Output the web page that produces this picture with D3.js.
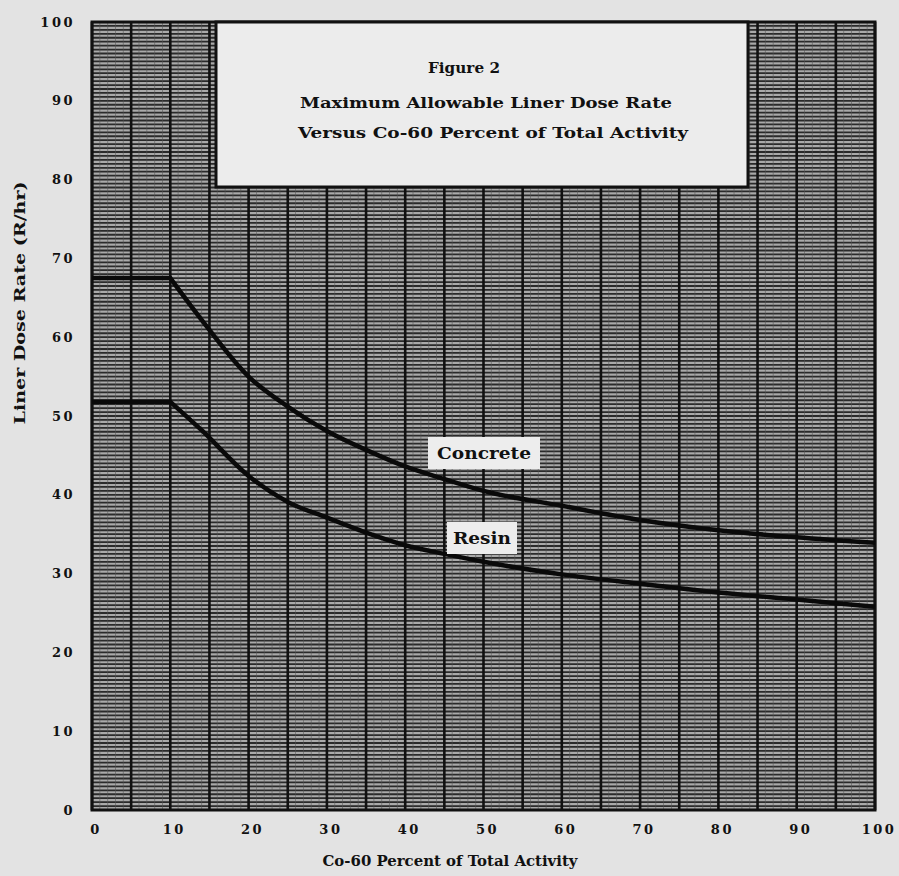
<!DOCTYPE html>
<html>
<head>
<meta charset="utf-8">
<script src="https://cdn.jsdelivr.net/npm/d3@7"></script>
<style>
  html, body { margin: 0; padding: 0; background: #e3e3e3; }
  svg { display: block; }
  text { font-family: "DejaVu Serif", "Liberation Serif", serif; font-weight: bold; fill: #111; }
</style>
</head>
<body>
<svg id="chart" width="899" height="876"></svg>
<script>
// ---- data ----
const xTicks = [0, 10, 20, 30, 40, 50, 60, 70, 80, 90, 100];
const yTicks = [0, 10, 20, 30, 40, 50, 60, 70, 80, 90, 100];
const concreteX = [0, 10, 14, 20, 25, 30, 35, 40, 45, 50, 60, 70, 80, 90, 100];
const concreteY = [67.5, 67.5, 62.2, 55.0, 51.2, 48.1, 45.7, 43.6, 42.0, 40.5, 38.6, 36.8, 35.5, 34.6, 33.9];
const resinX = [0, 10, 14, 20, 25, 30, 35, 40, 45, 50, 60, 70, 80, 90, 100];
const resinY = [51.8, 51.8, 48.2, 42.4, 39.1, 37.1, 35.2, 33.6, 32.5, 31.5, 29.9, 28.7, 27.6, 26.7, 25.8];
const titleLines = ["Figure 2", "Maximum Allowable Liner Dose Rate", "Versus Co-60 Percent of Total Activity"];
const xLabel = "Co-60 Percent of Total Activity";
const yLabel = "Liner Dose Rate (R/hr)";

// ---- layout ----
const L = 92, R = 875, T = 22, B = 810;
const svg = d3.select("#chart");
const x = d3.scaleLinear().domain([0, 100]).range([L, R]);
const y = d3.scaleLinear().domain([0, 100]).range([B, T]);

// plot background
svg.append("rect").attr("x", L).attr("y", T).attr("width", R - L).attr("height", B - T).attr("fill", "#a9a9a9");

const grid = svg.append("g");
grid.selectAll("line.h").data(d3.range(0, 100.01, 0.5)).join("line")
  .attr("x1", L).attr("x2", R).attr("y1", d => y(d)).attr("y2", d => y(d))
  .attr("stroke", "#2a2a2a").attr("stroke-width", 1.8);
grid.selectAll("line.vf").data(d3.range(0, 100.01, 1)).join("line")
  .attr("y1", T).attr("y2", B).attr("x1", d => x(d)).attr("x2", d => x(d))
  .attr("stroke", "#555").attr("stroke-width", 0.8).attr("opacity", 0.7);
grid.selectAll("line.v5").data(d3.range(0, 100.01, 5)).join("line")
  .attr("y1", T).attr("y2", B).attr("x1", d => x(d)).attr("x2", d => x(d))
  .attr("stroke", "#111").attr("stroke-width", 2.6);

// border
svg.append("rect").attr("x", L).attr("y", T).attr("width", R - L).attr("height", B - T)
  .attr("fill", "none").attr("stroke", "#111").attr("stroke-width", 3);

// curves: flat plateau (straight) + decreasing part (smooth), sharp corner at the kink
const flatLine = d3.line().x(d => x(d[0])).y(d => y(d[1]));
const smoothLine = d3.line().x(d => x(d[0])).y(d => y(d[1])).curve(d3.curveMonotoneX);
const concrete = concreteX.map((v, i) => [v, concreteY[i]]);
const resin = resinX.map((v, i) => [v, resinY[i]]);
[concrete, resin].forEach(data => {
  svg.append("path").attr("d", flatLine(data.slice(0, 2)) + smoothLine(data.slice(1)).replace(/^M/, "L"))
    .attr("fill", "none").attr("stroke", "#0a0a0a").attr("stroke-width", 4.5)
    .attr("stroke-linejoin", "miter");
});

// curve labels
function boxLabel(txt, cx, cy, w, h, tl) {
  svg.append("rect").attr("x", cx - w / 2).attr("y", cy - h / 2).attr("width", w).attr("height", h).attr("fill", "#ededed");
  svg.append("text").attr("x", cx).attr("y", cy).attr("text-anchor", "middle").attr("dominant-baseline", "central")
    .attr("textLength", tl).attr("lengthAdjust", "spacingAndGlyphs")
    .style("font-size", "16px").text(txt);
}
boxLabel("Concrete", 484, 453, 112, 32, 94);
boxLabel("Resin", 482, 538, 70, 32, 58);

// title box
svg.append("rect").attr("x", 216).attr("y", 22).attr("width", 532).attr("height", 165)
  .attr("fill", "#ececec").attr("stroke", "#111").attr("stroke-width", 3);
const tPos = [[464, 68, 72], [486, 103, 372], [493, 133, 390]];
titleLines.forEach((t, i) => {
  svg.append("text").attr("x", tPos[i][0]).attr("y", tPos[i][1]).attr("text-anchor", "middle").attr("dominant-baseline", "central")
    .attr("textLength", tPos[i][2]).attr("lengthAdjust", "spacingAndGlyphs")
    .style("font-size", "15px").text(t);
});

// tick labels
svg.append("g").selectAll("text").data(xTicks).join("text")
  .attr("x", d => x(d) + 4).attr("y", 834).attr("text-anchor", "middle")
  .style("font-size", "13px").style("letter-spacing", "2.5px").text(d => d);
svg.append("g").selectAll("text").data(yTicks).join("text")
  .attr("x", 75).attr("y", d => y(d)).attr("text-anchor", "end").attr("dominant-baseline", "central")
  .style("font-size", "13px").style("letter-spacing", "2.5px").text(d => d);

// axis titles
svg.append("text").attr("x", 450).attr("y", 866).attr("text-anchor", "middle")
  .attr("textLength", 255).attr("lengthAdjust", "spacingAndGlyphs")
  .style("font-size", "15px").text(xLabel);
svg.append("text").attr("transform", "translate(20,303) rotate(-90)").attr("text-anchor", "middle")
  .attr("dominant-baseline", "central").attr("textLength", 243).attr("lengthAdjust", "spacingAndGlyphs")
  .style("font-size", "15px").text(yLabel);
</script>
</body>
</html>
